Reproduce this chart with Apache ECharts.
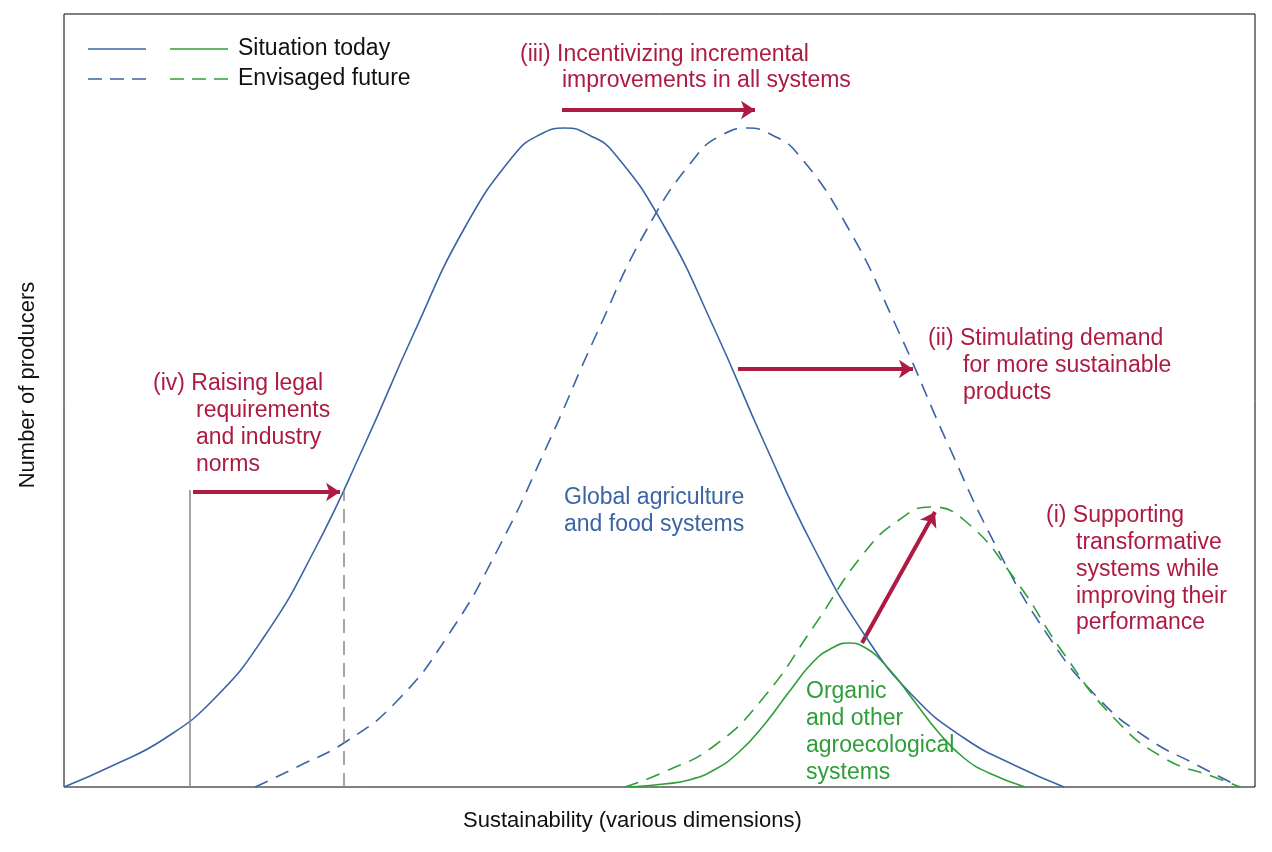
<!DOCTYPE html>
<html>
<head>
<meta charset="utf-8">
<script src="https://cdn.jsdelivr.net/npm/echarts@6/dist/echarts.min.js"></script>
<style>body{margin:0}#c{width:1272px;height:852px}</style>
</head>
<body>
<div id="c"></div>
<script>
// values (x = sustainability, y = number of producers)
var globalToday=[[0,0],[50,22],[100,48],[150,88],[200,150],[250,236],[300,341],[350,454],[400,558],[450,632],[475,652],[501,659],[525,652],[550,634],[600,561],[650,459],[700,345],[750,239],[800,153],[850,90],[900,49],[950,22],[1000,0]];
var globalFuture=[[191,0],[233,20],[283,46],[333,86],[383,150],[433,236],[483,341],[533,454],[583,558],[633,632],[658,652],[684,659],[708,652],[733,634],[783,561],[833,459],[883,345],[933,239],[983,153],[1033,90],[1083,49],[1133,22],[1176,0]];
var organicToday=[[566,0],[600,3],[625,7],[650,17],[675,35],[700,62],[725,95],[750,126],[770,140],[784,144],[800,140],[825,118],[850,86],[875,54],[900,29],[925,14],[961,0]];
var organicFuture=[[561,0],[600,15],[650,41],[700,90],[750,161],[800,234],[835,267],[866,280],[900,267],[950,209],[1000,133],[1050,69],[1100,29],[1150,10],[1176,0]];
var normToday=[[126,0],[126,297]];
var normFuture=[[280,0],[280,297]];
var arrows=[
  [[129,295],[276,295]],
  [[498,677],[691,677]],
  [[674,418],[849,418]],
  [[798,144],[871,275]]
];

var RED='#ad1a42',BLUE='#3b64a6',GREEN='#2e9e3a';
var FONT='"Liberation Sans", Arial, sans-serif';

function txt(x,y,s,color){
  return {type:'text',left:x,top:y,style:{text:s,fill:color,font:'23px '+FONT}};
}
function legLine(x1,x2,y,color,dash){
  return {type:'line',shape:{x1:x1,y1:y,x2:x2,y2:y},style:{stroke:color,lineWidth:1.5,lineDash:dash?[14,8]:null}};
}

function curve(data,color,dash){
  return {type:'line',data:data,smooth:0.5,showSymbol:false,
    lineStyle:{color:color,width:1.6,type:dash?[14,9]:'solid'}};
}

var chart=echarts.init(document.getElementById('c'));
chart.setOption({
  animation:false,
  grid:{left:64,right:17,top:14,bottom:65,show:true,borderColor:'#000',borderWidth:1},
  xAxis:{type:'value',min:0,max:1191,axisLine:{show:false},axisTick:{show:false},axisLabel:{show:false},splitLine:{show:false}},
  yAxis:{type:'value',min:0,max:773,axisLine:{show:false},axisTick:{show:false},axisLabel:{show:false},splitLine:{show:false}},
  series:[
    curve(globalToday,BLUE,false),
    curve(globalFuture,BLUE,true),
    curve(organicToday,GREEN,false),
    curve(organicFuture,GREEN,true),
    {type:'line',data:normToday,showSymbol:false,lineStyle:{color:'#888',width:1.5}},
    {type:'line',data:normFuture,showSymbol:false,lineStyle:{color:'#888',width:1.5,type:[14,8]}},
    {type:'lines',coordinateSystem:'cartesian2d',symbol:['none','arrow'],symbolSize:14,
      lineStyle:{color:RED,width:4,opacity:1},
      data:arrows.map(function(a){return {coords:a};})}
  ],
  graphic:[
    legLine(88,146,49,BLUE,false),legLine(170,228,49,GREEN,false),
    legLine(88,146,79,BLUE,true),legLine(170,228,79,GREEN,true),
    txt(238,37,'Situation today','#111'),txt(238,67,'Envisaged future','#111'),
    txt(520,43,'(iii) Incentivizing incremental',RED),txt(562,69,'improvements in all systems',RED),
    txt(928,327,'(ii) Stimulating demand',RED),txt(963,354,'for more sustainable',RED),txt(963,381,'products',RED),
    txt(153,372,'(iv) Raising legal',RED),txt(196,399,'requirements',RED),txt(196,426,'and industry',RED),txt(196,453,'norms',RED),
    txt(1046,504,'(i) Supporting',RED),txt(1076,531,'transformative',RED),txt(1076,558,'systems while',RED),txt(1076,585,'improving their',RED),txt(1076,611,'performance',RED),
    txt(564,486,'Global agriculture',BLUE),txt(564,513,'and food systems',BLUE),
    txt(806,680,'Organic',GREEN),txt(806,707,'and other',GREEN),txt(806,734,'agroecological',GREEN),txt(806,761,'systems',GREEN),
    {type:'text',left:463,top:810,style:{text:'Sustainability (various dimensions)',fill:'#111',font:'22px '+FONT}},
    {type:'text',x:28,y:385,rotation:Math.PI/2,style:{text:'Number of producers',fill:'#111',font:'22px '+FONT,textAlign:'center',textVerticalAlign:'middle'}}
  ]
});
</script>
</body>
</html>
